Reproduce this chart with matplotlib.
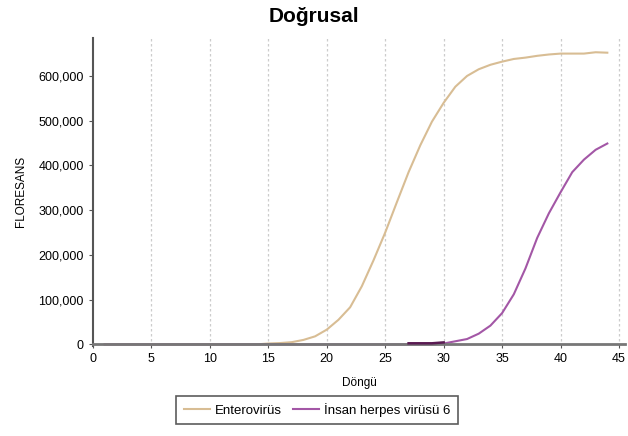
import matplotlib
matplotlib.use('Agg')
import matplotlib.pyplot as plt
import numpy as np

plt.rcParams['font.family'] = ['Liberation Sans', 'DejaVu Sans']

# data
cycles = list(range(1, 45))
enterovirus = [0] * 14 + [
    2000, 3000, 5000, 10000, 18000, 33000, 55000, 83000, 130000, 188000,
    250000, 318000, 385000, 445000, 498000, 540000, 576000, 600000, 615000, 625000,
    632000, 638000, 641000, 645000, 648000, 650000, 650000, 650000, 653000, 652000,
]
hhv6 = [0] * 29 + [
    2000, 7000, 12000, 24000, 42000, 70000, 112000, 170000, 238000, 293000,
    340000, 385000, 413000, 435000, 449000,
]
series_names = ['Enterovirüs', 'İnsan herpes virüsü 6']
x_ticks = list(range(0, 50, 5))
y_ticks = [0, 100000, 200000, 300000, 400000, 500000, 600000]

fig = plt.figure(figsize=(6.28, 4.36), dpi=100)
ax = fig.add_axes([0.148, 0.207, 0.847, 0.706])

ax.plot(cycles, enterovirus, color='#d8bd94', lw=1.5, label=series_names[0])
ax.plot(cycles, hhv6, color='#a357a6', lw=1.5, label=series_names[1])
# darker overlap segment just above the baseline
ax.plot(cycles[26:30], [v + 2500 for v in hhv6[26:30]], color='#5a1a52', lw=1.8, zorder=3)

ax.set_xlim(0, 45.5)
ax.set_ylim(-3000, 685000)
ax.set_xticks(x_ticks)
ax.set_yticks(y_ticks)
ax.set_yticklabels(['{:,}'.format(v) for v in y_ticks])
ax.tick_params(labelsize=9, length=3, color='#555555')

for xv in x_ticks[1:]:
    ax.axvline(xv, color='#cccccc', lw=0.9, ls=(0, (2, 2)), zorder=0)

for s in ['top', 'right']:
    ax.spines[s].set_visible(False)
ax.spines['left'].set_color('#555555')
ax.spines['left'].set_linewidth(1.5)
ax.spines['bottom'].set_color('#777777')
ax.spines['bottom'].set_linewidth(2)
ax.spines['bottom'].set_position(('data', 0))

ax.set_xlabel('Döngü', fontsize=8.5, labelpad=8)
ax.set_ylabel('FLORESANS', fontsize=8.5, labelpad=8)
fig.suptitle('Doğrusal', fontsize=15, fontweight='bold', y=0.985)

leg = fig.legend(loc='lower center', bbox_to_anchor=(0.505, 0.012), ncol=2,
                 fontsize=9.5, frameon=True, fancybox=False, handlelength=2,
                 columnspacing=0.8, handletextpad=0.4, borderpad=0.55)
leg.get_frame().set_edgecolor('#333333')
leg.get_frame().set_linewidth(1.2)

fig.savefig('out.png', dpi=100)
